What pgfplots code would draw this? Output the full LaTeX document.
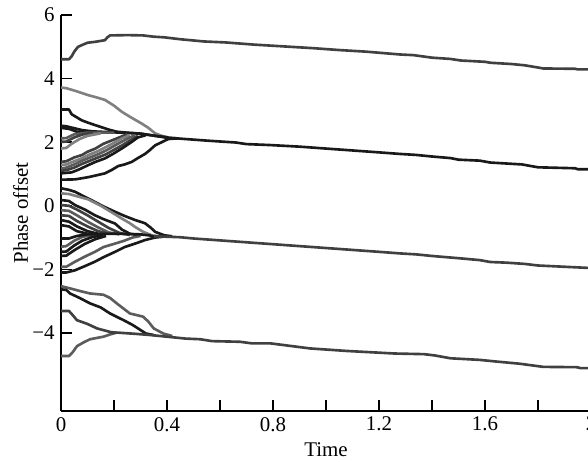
\documentclass[border=0pt]{standalone}
\usepackage{fontspec}
\setmainfont{Liberation Serif}
\usepackage{pgfplots}
\pgfplotsset{compat=1.18}
\definecolor{c1}{gray}{0.10}
\definecolor{c2}{gray}{0.25}
\definecolor{c3}{gray}{0.36}
\definecolor{c4}{gray}{0.50}
\begin{document}
\begin{tikzpicture}
\begin{axis}[name=ax, at={(0,0)}, anchor=south west,
  scale only axis, width=291.5pt, height=217.6pt,
  xmin=0, xmax=2, ymin=-6.45, ymax=6,
  axis lines*=left,
  axis line style={line width=1.1pt, black},
  xtick={0,0.4,0.8,1.2,1.6,2}, xticklabels={0,0.4,0.8,1.2,1.6,2},
  minor xtick={0.2,0.6,1.0,1.4,1.8},
  ytick={-4,-2,0,2,4,6}, yticklabels={−4,−2,0,2,4,6},
  tick align=inside, major tick length=6pt, minor tick length=6pt,
  tick style={line width=0.8pt, black},
  tick label style={font=\fontsize{11.5}{13}\selectfont},
  label style={font=\fontsize{11.5}{13}\selectfont},
  xlabel={Time}, ylabel={Phase offset},
  xlabel style={at={(axis description cs:0.5,-0.1163)}, anchor=base},
  ylabel style={at={(axis description cs:-0.0624,0.5)}, anchor=base, rotate=0},
  every axis plot/.append style={line width=1.45pt, line join=round},
]
% top line
\addplot[c2] coordinates {(0,4.61)(0.03,4.61)(0.04,4.7)(0.05,4.85)(0.064,5.0)(0.08,5.06)(0.1,5.13)(0.13,5.16)(0.166,5.21)(0.175,5.3)(0.185,5.36)(0.25,5.37)(0.31,5.36)(0.35,5.32)(0.39,5.3)(0.45,5.24)(0.54,5.17)(0.62,5.14)(0.73,5.07)(0.85,5.01)(0.95,4.96)(1.05,4.9)(1.15,4.85)(1.28,4.76)(1.33,4.74)(1.4,4.66)(1.47,4.62)(1.51,4.57)(1.6,4.53)(1.62,4.5)(1.7,4.46)(1.75,4.42)(1.8,4.35)(1.82,4.32)(1.94,4.31)(1.95,4.29)(2,4.29)};
% cluster 2
\addplot[c4] coordinates {(0,3.72)(0.02,3.7)(0.06,3.6)(0.103,3.48)(0.13,3.42)(0.166,3.33)(0.2,3.15)(0.229,2.96)(0.26,2.8)(0.304,2.59)(0.33,2.45)(0.355,2.28)(0.38,2.2)(0.405,2.15)(0.44,2.12)};
\addplot[c1] coordinates {(0,3.03)(0.03,3.03)(0.04,2.88)(0.06,2.78)(0.078,2.69)(0.1,2.62)(0.128,2.54)(0.15,2.48)(0.179,2.4)(0.21,2.33)(0.25,2.3)(0.3,2.27)};
\addplot[c1] coordinates {(0,2.52)(0.02,2.5)(0.05,2.44)(0.08,2.38)(0.12,2.34)(0.2,2.31)(0.3,2.27)(0.355,2.2)(0.405,2.15)};
\addplot[c1] coordinates {(0,2.45)(0.03,2.42)(0.06,2.33)(0.1,2.31)(0.2,2.3)};
\addplot[c3] coordinates {(0,2.12)(0.02,2.13)(0.05,2.25)(0.1,2.3)(0.2,2.3)};
\addplot[c2] coordinates {(0,2.01)(0.02,2.02)(0.05,2.15)(0.08,2.24)(0.12,2.3)};
\addplot[c4] coordinates {(0,1.80)(0.02,1.82)(0.04,1.95)(0.07,2.1)(0.1,2.2)(0.15,2.28)};
\addplot[c2] coordinates {(0,1.38)(0.02,1.4)(0.05,1.52)(0.08,1.6)(0.1,1.7)(0.13,1.8)(0.16,1.95)(0.19,2.05)(0.22,2.15)(0.25,2.25)};
\addplot[c4] coordinates {(0,1.28)(0.02,1.3)(0.05,1.4)(0.08,1.5)(0.11,1.62)(0.14,1.72)(0.17,1.85)(0.2,1.98)(0.23,2.12)(0.26,2.22)};
\addplot[c3] coordinates {(0,1.17)(0.02,1.2)(0.05,1.3)(0.08,1.42)(0.11,1.52)(0.14,1.62)(0.17,1.74)(0.2,1.88)(0.23,2.02)(0.26,2.15)(0.28,2.22)};
\addplot[c2] coordinates {(0,1.10)(0.02,1.12)(0.05,1.2)(0.08,1.32)(0.11,1.42)(0.14,1.52)(0.17,1.62)(0.2,1.76)(0.23,1.9)(0.26,2.05)(0.29,2.2)};
\addplot[c1] coordinates {(0,1.02)(0.04,1.05)(0.07,1.15)(0.103,1.28)(0.13,1.38)(0.166,1.49)(0.2,1.65)(0.229,1.8)(0.267,2.01)(0.29,2.15)(0.32,2.22)};
\addplot[c1] coordinates {(0,0.82)(0.053,0.83)(0.075,0.86)(0.103,0.9)(0.13,0.95)(0.166,1.02)(0.19,1.12)(0.216,1.25)(0.24,1.3)(0.267,1.38)(0.29,1.5)(0.317,1.63)(0.335,1.75)(0.355,1.9)(0.38,2.0)(0.405,2.1)(0.44,2.12)};
\addplot[c1] coordinates {(0.3,2.27)(0.355,2.2)(0.4,2.14)(0.437,2.12)(0.55,2.05)(0.66,1.99)(0.70,1.94)(0.79,1.91)(0.9,1.86)(1.0,1.8)(1.1,1.74)(1.2,1.68)(1.28,1.63)(1.34,1.6)(1.4,1.55)(1.47,1.5)(1.5,1.45)(1.58,1.42)(1.62,1.36)(1.68,1.33)(1.74,1.3)(1.8,1.21)(1.94,1.18)(1.95,1.15)(2,1.15)};
% cluster 3
\addplot[c1] coordinates {(0,0.55)(0.03,0.5)(0.053,0.44)(0.09,0.28)(0.128,0.12)(0.16,-0.02)(0.204,-0.19)(0.24,-0.32)(0.28,-0.45)(0.317,-0.55)(0.34,-0.7)(0.355,-0.82)(0.39,-0.93)(0.42,-0.96)};
\addplot[c4] coordinates {(0,0.39)(0.03,0.37)(0.06,0.3)(0.103,0.2)(0.15,0.0)(0.2,-0.25)(0.229,-0.4)(0.26,-0.55)(0.28,-0.67)(0.31,-0.82)(0.34,-0.92)};
\addplot[c1] coordinates {(0,0.18)(0.03,0.15)(0.053,0.02)(0.09,-0.12)(0.128,-0.3)(0.16,-0.42)(0.204,-0.56)(0.23,-0.75)(0.26,-0.88)(0.3,-0.93)};
\addplot[c2] coordinates {(0,0.02)(0.03,0.0)(0.06,-0.12)(0.1,-0.3)(0.14,-0.5)(0.18,-0.7)(0.22,-0.85)(0.26,-0.92)};
\addplot[c3] coordinates {(0,-0.14)(0.03,-0.16)(0.06,-0.3)(0.1,-0.5)(0.14,-0.68)(0.18,-0.84)(0.22,-0.9)};
\addplot[c2] coordinates {(0,-0.30)(0.03,-0.32)(0.06,-0.48)(0.1,-0.65)(0.14,-0.8)(0.18,-0.88)};
\addplot[c1] coordinates {(0,-0.45)(0.03,-0.5)(0.06,-0.65)(0.1,-0.8)(0.14,-0.88)};
\addplot[c1] coordinates {(0,-0.61)(0.03,-0.65)(0.06,-0.8)(0.1,-0.88)};
\addplot[c3] coordinates {(0,-1.29)(0.02,-1.27)(0.05,-1.1)(0.08,-0.98)(0.12,-0.92)};
\addplot[c1] coordinates {(0,-1.45)(0.02,-1.44)(0.05,-1.25)(0.08,-1.1)(0.12,-0.98)(0.16,-0.92)};
\addplot[c1] coordinates {(0,-1.58)(0.02,-1.57)(0.05,-1.4)(0.09,-1.2)(0.13,-1.05)(0.17,-0.95)};
\addplot[c3] coordinates {(0,-1.92)(0.02,-1.92)(0.053,-1.76)(0.09,-1.6)(0.128,-1.45)(0.16,-1.3)(0.204,-1.19)(0.239,-1.1)(0.27,-1.0)(0.3,-0.95)};
\addplot[c1] coordinates {(0,-2.1)(0.02,-2.1)(0.053,-2.03)(0.09,-1.9)(0.128,-1.76)(0.16,-1.62)(0.204,-1.45)(0.24,-1.3)(0.28,-1.19)(0.317,-1.08)(0.355,-1.0)(0.39,-0.97)};
\addplot[c1] coordinates {(0,-1.03)(0.03,-1.03)(0.06,-0.95)(0.1,-0.9)(0.2,-0.88)(0.3,-0.9)(0.35,-0.95)(0.4,-0.97)};
\addplot[c2] coordinates {(0.35,-0.96)(0.45,-0.99)(0.5,-1.03)(0.6,-1.09)(0.7,-1.15)(0.8,-1.21)(0.9,-1.27)(1.0,-1.33)(1.1,-1.39)(1.2,-1.45)(1.28,-1.5)(1.34,-1.53)(1.4,-1.58)(1.5,-1.65)(1.58,-1.71)(1.62,-1.77)(1.68,-1.79)(1.75,-1.83)(1.8,-1.88)(1.95,-1.94)(2,-1.96)};
% cluster 4
\addplot[c3] coordinates {(0,-2.53)(0.034,-2.6)(0.07,-2.68)(0.109,-2.76)(0.16,-2.8)(0.185,-2.9)(0.21,-3.07)(0.26,-3.39)(0.31,-3.49)(0.33,-3.65)(0.35,-3.86)(0.386,-4.02)(0.42,-4.1)};
\addplot[c1] coordinates {(0,-2.63)(0.02,-2.65)(0.034,-2.76)(0.07,-2.9)(0.109,-3.07)(0.15,-3.2)(0.185,-3.39)(0.236,-3.6)(0.27,-3.75)(0.3,-3.91)(0.32,-4.02)(0.35,-4.07)};
\addplot[c2] coordinates {(0,-3.31)(0.03,-3.31)(0.045,-3.45)(0.06,-3.6)(0.1,-3.72)(0.136,-3.86)(0.185,-3.97)(0.21,-4.0)};
\addplot[c3] coordinates {(0,-4.73)(0.03,-4.73)(0.045,-4.6)(0.06,-4.42)(0.085,-4.3)(0.11,-4.2)(0.16,-4.12)(0.185,-4.05)(0.21,-3.99)};
\addplot[c2] coordinates {(0.185,-4.0)(0.21,-3.99)(0.28,-4.03)(0.34,-4.07)(0.47,-4.18)(0.525,-4.2)(0.57,-4.26)(0.675,-4.28)(0.72,-4.33)(0.79,-4.33)(0.94,-4.49)(1.08,-4.57)(1.26,-4.65)(1.37,-4.67)(1.41,-4.71)(1.47,-4.8)(1.58,-4.85)(1.64,-4.9)(1.73,-4.97)(1.82,-5.07)(1.947,-5.08)(1.96,-5.11)(2,-5.11)};
\end{axis}
\pgfresetboundingbox
\path (-33.55pt,-27.66pt) rectangle (289.85pt,225.9pt);
\end{tikzpicture}
\end{document}
